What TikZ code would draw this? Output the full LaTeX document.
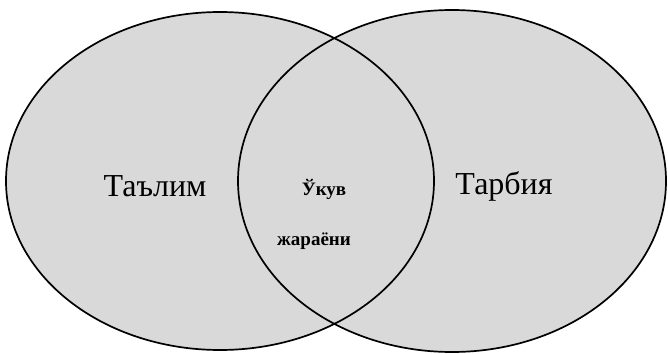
\documentclass[tikz,border=0pt]{standalone}
\usepackage{fontspec}
\setmainfont{Liberation Serif}
\usetikzlibrary{shapes.geometric}
\begin{document}
\begin{tikzpicture}[x=1pt,y=-1pt,
  shade/.style={fill=black!15},
  circ/.style={ellipse,draw=black,line width=1.7pt,inner sep=0pt},
  big/.style={font=\fontsize{32}{36}\selectfont,inner sep=0pt},
  small/.style={font=\bfseries\fontsize{19}{22}\selectfont,inner sep=0pt}]
\useasboundingbox (0,0) rectangle (668,353);
\fill[shade] (220,181) ellipse [x radius=214, y radius=169];
\fill[shade] (452,181) ellipse [x radius=214, y radius=171];
\node[circ,minimum width=428pt,minimum height=338pt] (L) at (220,181) {};
\node[circ,minimum width=428pt,minimum height=342pt] (R) at (452,181) {};
\node[big] (t1) at (155,186) {Таълим};
\node[big] (t2) at (504,186) {Тарбия};
\node[small] (m1) at (324,189) {Ўкув};
\node[small] (m2) at (314,241) {жараёни};
\end{tikzpicture}
\end{document}
